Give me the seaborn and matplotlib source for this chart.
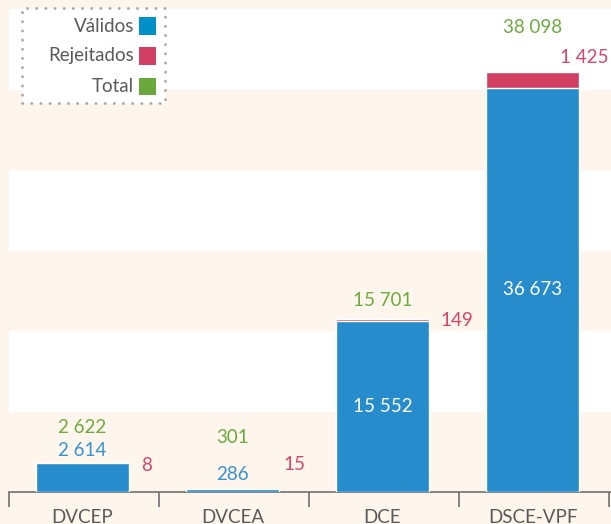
import matplotlib
matplotlib.use("Agg")
import matplotlib.pyplot as plt
import seaborn as sns
import pandas as pd
from matplotlib.patches import Rectangle

categories = ["DVCEP", "DVCEA", "DCE", "DSCE-VPF"]
validos = [2614, 286, 15552, 36673]
rejeitados = [8, 15, 149, 1425]
totais = [2622, 301, 15701, 38098]
legend_labels = ["Válidos", "Rejeitados", "Total"]

df = pd.DataFrame({"cat": categories, "validos": validos,
                   "rejeitados": rejeitados, "total": totais})

sns.set_theme(style="white")
plt.rcParams["font.family"] = ["Lato", "DejaVu Sans"]

CREAM = "#FEF6EC"
BLUE = "#268CCC"
RED = "#D14062"
GREEN = "#6BA83B"
LEG_BLUE = "#0091C8"
TXT_BLUE = "#3592D4"
TXT_GREEN = "#6CAA3F"
TXT_RED = "#D6456A"
GRAY = "#5A5A5A"
FS = 13.5

W, H = 611, 524
fig = plt.figure(figsize=(W / 100, H / 100), dpi=100, facecolor=CREAM)
ax_left, ax_bottom, ax_top = 9.3, 492, 9
ax = fig.add_axes([ax_left / W, (H - ax_bottom) / H, (W - ax_left) / W,
                   (ax_bottom - ax_top) / H])
ax.set_facecolor(CREAM)

ymax = 43800
band = ymax / 6
for k in (1, 3, 5):
    ax.axhspan(k * band, (k + 1) * band, color="white", lw=0, zorder=0)

bw = 0.62
sns.barplot(data=df, x="cat", y="total", color=RED, width=bw, saturation=1,
            ax=ax, zorder=2)
sns.barplot(data=df, x="cat", y="validos", color=BLUE, width=bw, saturation=1,
            ax=ax, zorder=3)

xmin = -(82.5 - ax_left) / 150
ax.set_xlim(xmin, xmin + (W - ax_left) / 150)
ax.set_ylim(0, ymax)

for s in ["top", "right", "left"]:
    ax.spines[s].set_visible(False)
ax.spines["bottom"].set_color("#707070")
ax.spines["bottom"].set_linewidth(1.2)
ax.set_yticks([])
ax.set_xlabel("")
ax.set_ylabel("")
ax.set_xticks(range(len(categories)))
ax.set_xticklabels(categories, fontsize=FS, color=GRAY)
ax.tick_params(axis="x", which="major", length=0, pad=12)
ax.set_xticks([xmin + 0.0 + i for i in range(5)], minor=True)
ax.tick_params(axis="x", which="minor", length=10.5, width=1.2,
               color="#707070", bottom=True)


def fmt(v):
    return f"{v:,}".replace(",", " ")


# label offsets in pixels (styles/positions)
blue_off = [13, 14, None, None]
green_off = [36, 51, 18, 44]
red_pos = [(12, -2.5, "left"), (4, 24, "left"), (11, -1.5, "left"),
           (29, 14, "right")]
half = bw / 2
for i in range(len(categories)):
    v, r, t = validos[i], rejeitados[i], totais[i]
    if blue_off[i] is not None:
        ax.annotate(fmt(v), (i, v), xytext=(0, blue_off[i]),
                    textcoords="offset pixels", ha="center", va="center",
                    color=TXT_BLUE, fontsize=FS, zorder=5)
    else:
        ax.text(i, v / 2, fmt(v), ha="center", va="center", color="white",
                fontsize=FS, zorder=5)
    ax.annotate(fmt(t), (i, t), xytext=(0, green_off[i]),
                textcoords="offset pixels", ha="center", va="center",
                color=TXT_GREEN, fontsize=FS, zorder=5)
    dx, dy, ha = red_pos[i]
    ax.annotate(fmt(r), (i + half, t), xytext=(dx, dy),
                textcoords="offset pixels", ha=ha, va="center",
                color=TXT_RED, fontsize=FS, zorder=5)

# legend (drawn manually: right-aligned labels with squares)
def fx(px):
    return px / W


def fy(py):
    return 1 - py / H


box = Rectangle((fx(22), fy(103)), fx(165) - fx(22), fy(8) - fy(103),
                transform=fig.transFigure, facecolor="white",
                edgecolor="#A8A8A8", linewidth=2.0,
                linestyle=(0, (0.1, 3.2)), capstyle="round", zorder=10)
fig.add_artist(box)
leg_colors = [LEG_BLUE, RED, GREEN]
for lab, col, cy in zip(legend_labels, leg_colors, [26, 56, 86]):
    fig.add_artist(Rectangle((fx(139), fy(cy + 8.5)), fx(17), 17 / H,
                             transform=fig.transFigure, facecolor=col,
                             edgecolor="none", zorder=11))
    fig.text(fx(134), fy(cy), lab, ha="right", va="center", color=GRAY,
             fontsize=FS, zorder=12)

fig.savefig("out.png", dpi=100, facecolor=CREAM)
